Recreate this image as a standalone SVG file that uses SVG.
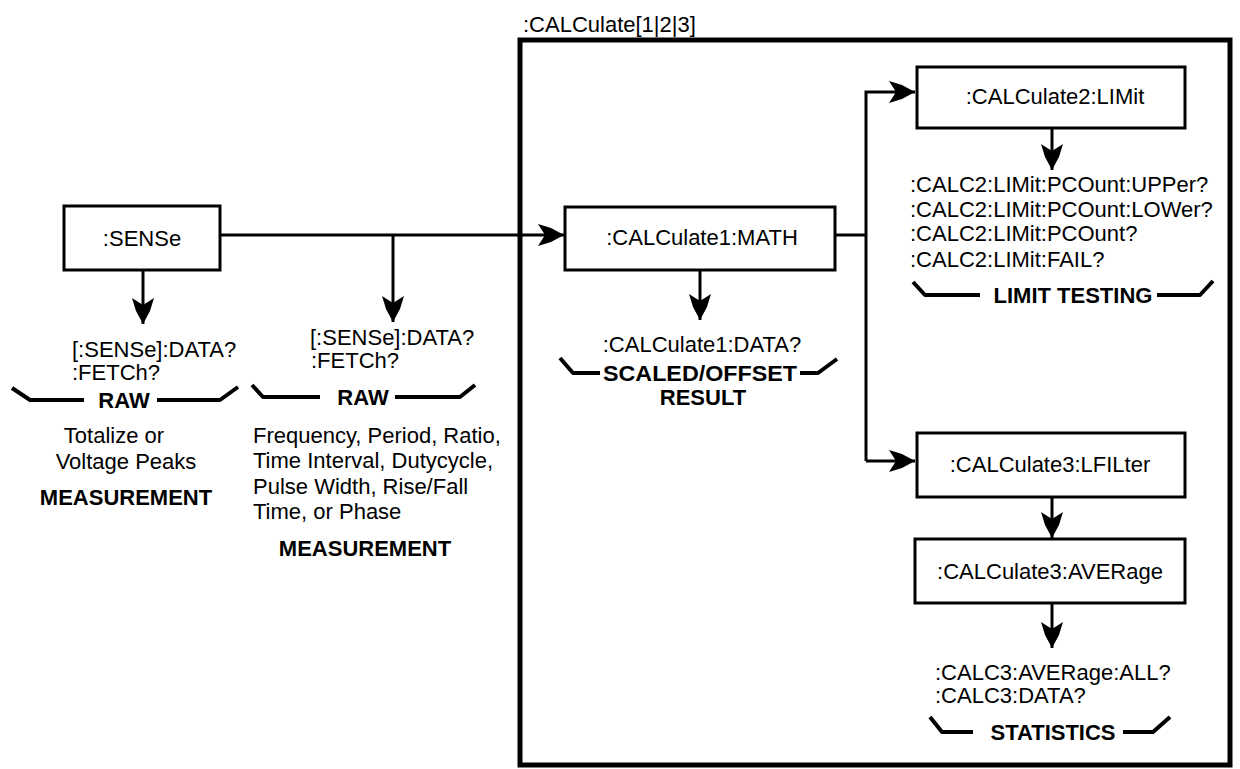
<svg xmlns="http://www.w3.org/2000/svg" width="1240" height="769" viewBox="0 0 1240 769">
<style>
text{font-family:"Liberation Sans",Arial,sans-serif;font-size:22px;fill:#000}
.b{font-weight:bold}
.m{text-anchor:middle}
.box{fill:#fff;stroke:#000;stroke-width:3}
.con{fill:none;stroke:#000;stroke-width:3}
.br{fill:none;stroke:#000;stroke-width:4;stroke-linejoin:round}
</style>
<defs>
<marker id="ah" viewBox="-28 -12 30 24" refX="0" refY="0" markerWidth="30" markerHeight="24" markerUnits="userSpaceOnUse" orient="auto">
<path d="M0,0 L-13,-7 L-26,-11 L-19,0 L-26,11 L-13,7 Z" fill="#000"/>
</marker>
</defs>
<rect width="1240" height="769" fill="#fff"/>
<g id="calc-frame">
<rect x="520" y="40" width="710" height="725" fill="none" stroke="#000" stroke-width="5"/>
<text x="523" y="32">:CALCulate[1|2|3]</text>
</g>
<g id="connectors">
<line class="con" x1="220" y1="235" x2="564" y2="235" marker-end="url(#ah)"/>
<line class="con" x1="143" y1="270" x2="143" y2="324" marker-end="url(#ah)"/>
<line class="con" x1="393" y1="235" x2="393" y2="322" marker-end="url(#ah)"/>
<line class="con" x1="700" y1="270" x2="700" y2="320" marker-end="url(#ah)"/>
<polyline class="con" points="835,235 866,235"/>
<polyline class="con" points="866,461 866,92 915,92" marker-end="url(#ah)"/>
<line class="con" x1="866" y1="461" x2="915" y2="461" marker-end="url(#ah)"/>
<line class="con" x1="1052" y1="128" x2="1052" y2="170" marker-end="url(#ah)"/>
<line class="con" x1="1052" y1="497" x2="1052" y2="538" marker-end="url(#ah)"/>
<line class="con" x1="1052" y1="603" x2="1052" y2="648" marker-end="url(#ah)"/>
</g>
<g id="sense">
<rect class="box" x="64" y="206" width="156" height="64"/>
<text class="m" x="142" y="246">:SENSe</text>
</g>
<g id="raw1">
<text x="72" y="357">[:SENSe]:DATA?</text>
<text x="72" y="380">:FETCh?</text>
<path class="br" d="M12,388 L30,400 L84,400 M157,400 L220,400 L238,387"/>
<text class="b m" x="124" y="408">RAW</text>
<text class="m" x="114" y="443">Totalize or</text>
<text class="m" x="126" y="469">Voltage Peaks</text>
<text class="b m" x="126" y="505">MEASUREMENT</text>
</g>
<g id="raw2">
<text x="310" y="345">[:SENSe]:DATA?</text>
<text x="311" y="368">:FETCh?</text>
<path class="br" d="M252,385 L263,397 L320,397 M395,397 L460,397 L475,385"/>
<text class="b m" x="363" y="405">RAW</text>
<text x="253" y="443">Frequency, Period, Ratio,</text>
<text x="253" y="468">Time Interval, Dutycycle,</text>
<text x="253" y="494">Pulse Width, Rise/Fall</text>
<text x="253" y="519">Time, or Phase</text>
<text class="b m" x="365" y="556">MEASUREMENT</text>
</g>
<g id="calc1-math">
<rect class="box" x="565" y="207" width="270" height="63"/>
<text class="m" x="702" y="245">:CALCulate1:MATH</text>
</g>
<g id="calc1-data">
<text class="m" x="702" y="352">:CALCulate1:DATA?</text>
<path class="br" d="M560,358 L573,373 L600,373 M800,373 L818,373 L837,359"/>
<text class="b m" x="700" y="381" textLength="194" lengthAdjust="spacingAndGlyphs">SCALED/OFFSET</text>
<text class="b m" x="703" y="405">RESULT</text>
</g>
<g id="calc2-limit">
<rect class="box" x="917" y="67" width="268" height="61"/>
<text class="m" x="1055" y="104">:CALCulate2:LIMit</text>
</g>
<g id="limit-testing">
<text x="910" y="192">:CALC2:LIMit:PCOunt:UPPer?</text>
<text x="910" y="217">:CALC2:LIMit:PCOunt:LOWer?</text>
<text x="910" y="241">:CALC2:LIMit:PCOunt?</text>
<text x="910" y="267">:CALC2:LIMit:FAIL?</text>
<path class="br" d="M913,282 L925,295 L980,295 M1157,295 L1200,295 L1213,281"/>
<text class="b m" x="1073" y="303">LIMIT TESTING</text>
</g>
<g id="calc3-lfilter">
<rect class="box" x="917" y="433" width="268" height="64"/>
<text class="m" x="1050" y="472">:CALCulate3:LFILter</text>
</g>
<g id="calc3-average">
<rect class="box" x="915" y="539" width="270" height="64"/>
<text class="m" x="1050" y="579">:CALCulate3:AVERage</text>
</g>
<g id="statistics">
<text x="935" y="680">:CALC3:AVERage:ALL?</text>
<text x="935" y="703">:CALC3:DATA?</text>
<path class="br" d="M930,717 L942,732 L973,732 M1123,732 L1153,732 L1170,717"/>
<text class="b m" x="1053" y="740">STATISTICS</text>
</g>
</svg>
